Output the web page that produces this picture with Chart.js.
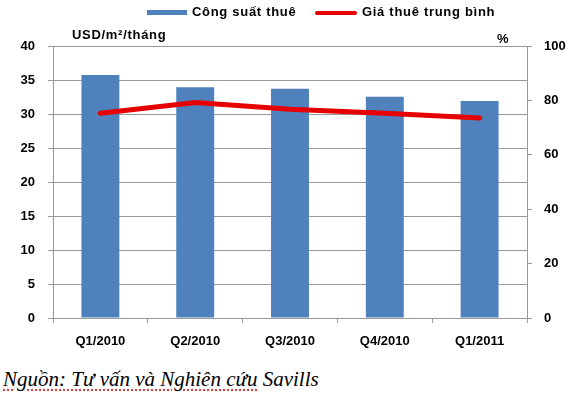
<!DOCTYPE html>
<html>
<head>
<meta charset="utf-8">
<script src="https://cdn.jsdelivr.net/npm/chart.js@4"></script>
<style>
  body{margin:0;width:568px;height:399px;background:#fff;position:relative;overflow:hidden;font-family:"Liberation Sans",Arial,sans-serif}
  #wrap{position:absolute;left:0;top:0;width:568px;height:360px}
  .lbl{position:absolute;font-weight:bold;font-size:13px;color:#000;letter-spacing:0.7px;white-space:nowrap}
  .key{position:absolute}
  #src{position:absolute;left:3px;top:367px;font-family:"Liberation Serif","Times New Roman",serif;font-style:italic;font-size:21px;color:#000;white-space:nowrap}
  #src .sp{text-decoration:underline dotted #e04040;text-underline-offset:3px}
</style>
</head>
<body>
<div id="wrap"><canvas id="chart" width="568" height="360"></canvas></div>

<div class="key" style="left:147px;top:10px;width:40px;height:5px;background:#4f81bd"></div>
<div class="lbl" style="left:192px;top:4px">Công suất thuê</div>
<div class="key" style="left:315px;top:11px;width:42px;height:4px;background:#e60000;border-radius:2px"></div>
<div class="lbl" style="left:362px;top:4px">Giá thuê trung bình</div>

<div class="lbl" style="left:72px;top:27px">USD/m²/tháng</div>
<div class="lbl" style="left:497px;top:31px">%</div>

<div id="src"><span class="sp">Nguồn: Tư vấn và Nghiên cứu</span> Savills</div>

<script>
// data
const quarters = ['Q1/2010','Q2/2010','Q3/2010','Q4/2010','Q1/2011'];
const occupancy = [89.3, 84.8, 84.3, 81.3, 79.8];   // Công suất thuê (%)
const avgRent = [30.1, 31.7, 30.7, 30.1, 29.4];     // Giá thuê trung bình (USD/m²/tháng)
const leftTicks = [0,5,10,15,20,25,30,35,40];
const rightTicks = [0,20,40,60,80,100];

const gridGray = '#9a9a9a';
const tickFont = {family:'"Liberation Sans", Arial, sans-serif', size:13, weight:'bold'};

const ctx = document.getElementById('chart').getContext('2d');
new Chart(ctx,{
  type:'bar',
  data:{
    labels:quarters,
    datasets:[
      {type:'line', label:'Giá thuê trung bình', data:avgRent, yAxisID:'y', order:0,
       borderColor:'#e60000', borderWidth:5, pointRadius:0, tension:0, fill:false, borderCapStyle:'round'},
      {type:'bar', label:'Công suất thuê', data:occupancy, yAxisID:'y1', order:1,
       backgroundColor:'#4f81bd', barPercentage:0.4, categoryPercentage:1}
    ]
  },
  options:{
    responsive:false, animation:false,
    layout:{padding:{top:46,left:0,right:0,bottom:0}},
    plugins:{legend:{display:false}, tooltip:{enabled:false}},
    scales:{
      x:{
        grid:{drawOnChartArea:false, drawTicks:true, tickLength:5, color:gridGray, offset:true},
        border:{color:gridGray, width:1},
        ticks:{font:tickFont, color:'#000', padding:11, maxRotation:0},
        afterFit:s=>{s.height=42;}
      },
      y:{
        position:'left', min:0, max:40,
        afterBuildTicks:s=>{s.ticks=leftTicks.map(v=>({value:v}));},
        grid:{color:gridGray, tickLength:5, lineWidth:1},
        border:{color:gridGray, width:1},
        ticks:{font:tickFont, color:'#000', padding:13},
        afterFit:s=>{s.width=53;}
      },
      y1:{
        position:'right', min:0, max:100,
        afterBuildTicks:s=>{s.ticks=rightTicks.map(v=>({value:v}));},
        grid:{drawOnChartArea:false, tickLength:5, color:gridGray},
        border:{color:gridGray, width:1},
        ticks:{font:tickFont, color:'#000', padding:12},
        afterFit:s=>{s.width=41;}
      }
    }
  }
});
</script>
</body>
</html>
